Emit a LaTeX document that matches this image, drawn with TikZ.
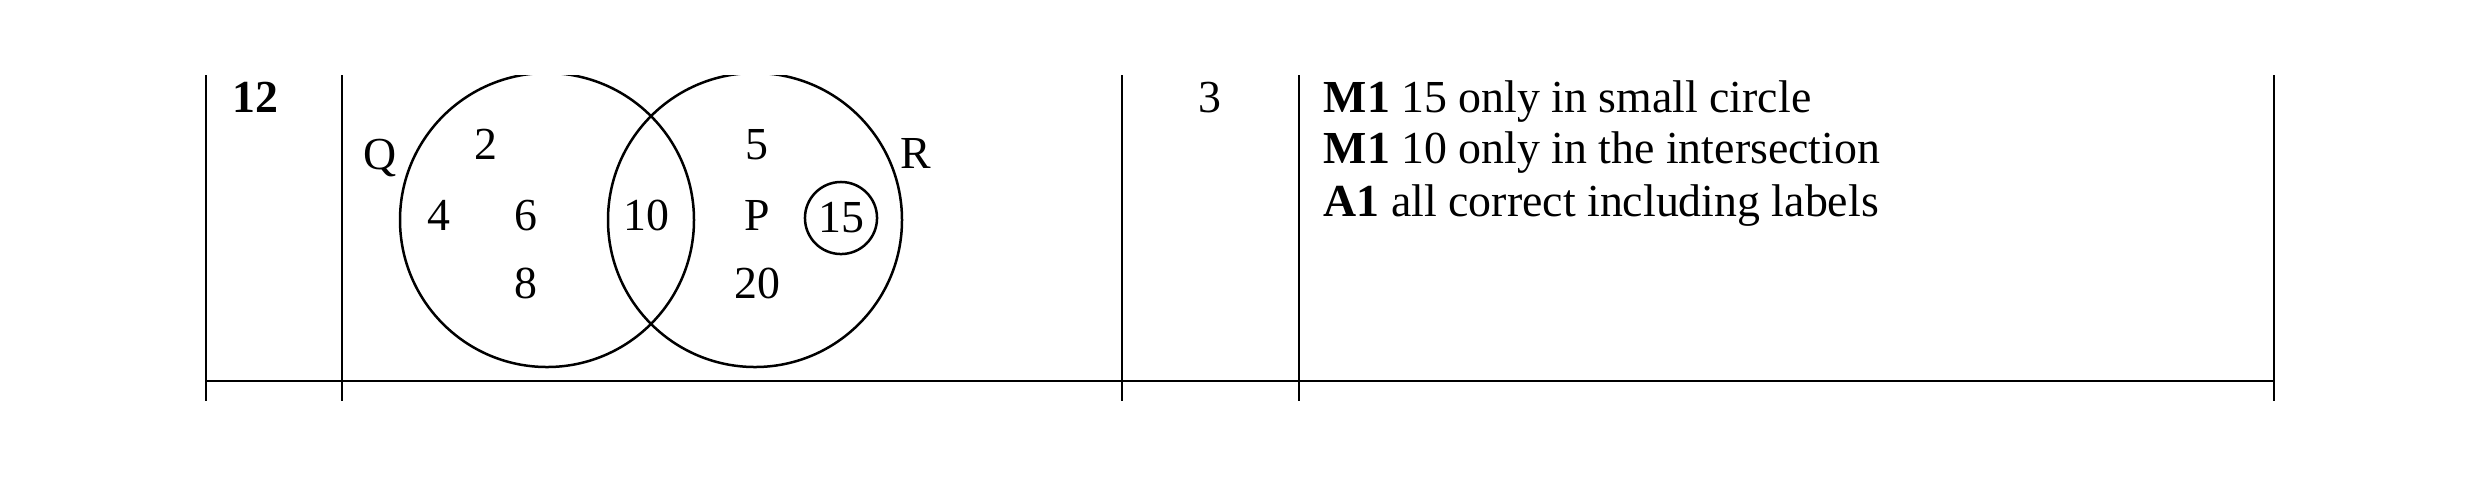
\documentclass[tikz,border=0pt]{standalone}
\usepackage{fontspec}
\setmainfont{Liberation Serif}
\usepackage{tikz}
\usetikzlibrary{positioning}
\tikzset{
    rule/.style={line width=0.6pt, black},
    setring/.style={line width=0.6pt, black},
    entry/.style={font=\fontsize{11}{13}\selectfont, anchor=base, inner sep=0pt},
    textline/.style={entry, anchor=base west},
    smallring/.style={circle, draw, line width=0.6pt, inner sep=0pt, minimum size=17.3pt, font=\fontsize{11}{13}\selectfont}
}

\begin{document}
\begin{tikzpicture}[x=0.24pt, y=-0.24pt]
                    \useasboundingbox (0,0) rectangle (2480,476);
                    % table rules
                    \foreach \cx in {206, 342, 1122, 1299, 2274}
                        \draw[rule] (\cx,75) -- (\cx,401);
                    \draw[rule] (206,381) -- (2274,381);

                    % question number and marks
                    \node[textline, font=\fontsize{11}{13}\selectfont\bfseries] (qno) at (232,112) {12};
                    \node[entry] (marks) at (1210,112) {3};
                    \node[textline] (m1a) at (1323,112) {\textbf{M1} 15 only in small circle};
                    \node[textline] (m1b) at (1323,163) {\textbf{M1} 10 only in the intersection};
                    \node[textline] (a1) at (1323,216) {\textbf{A1} all correct including labels};

                    % venn diagram
                    \begin{scope}
                        \clip (342,75) rectangle (1122,381);
                        \draw[setring] (547,220) circle (147);
                        \draw[setring] (755,220) circle (147);
                    \end{scope}
                    \node[smallring] (n15) at (841,218) {15};

                    \node[entry] (lq) at (380,169) {Q};
                    \node[entry] (lr) at (916,168) {R};
                    \node[entry] (lp) at (757,230) {P};
                    \node[entry] (n2) at (486,159) {2};
                    \node[entry] (n4) at (439,230) {4};
                    \node[entry] (n6) at (526,230) {6};
                    \node[entry] (n8) at (526,298) {8};
                    \node[entry] (n10) at (646,230) {10};
                    \node[entry] (n5) at (757,159) {5};
                    \node[entry] (n20) at (757,298) {20};
                \end{tikzpicture}
\end{document}
